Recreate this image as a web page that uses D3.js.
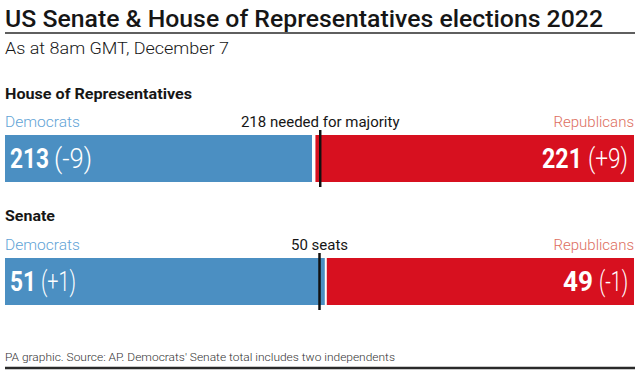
<!DOCTYPE html>
<html><head><meta charset="utf-8">
<script src="https://cdn.jsdelivr.net/npm/d3@7"></script>
<style>
html,body{margin:0;padding:0;background:#fff;}
svg{display:block;font-family:Roboto,"Liberation Sans",sans-serif;}
</style></head>
<body><svg id="c" width="640" height="373"></svg>
<script>
// ---- data ----
const chambers = ["House of Representatives", "Senate"];
const totalSeats = [435, 100];
const demSeats = [213, 51];
const repSeats = [221, 49];
const demChange = ["(-9)", "(+1)"];
const repChange = ["(+9)", "(-1)"];
const thresholds = [218, 50];
const thresholdLabels = ["218 needed for majority", "50 seats"];
const partyLabels = ["Democrats", "Republicans"];
const title = "US Senate & House of Representatives elections 2022";
const subtitle = "As at 8am GMT, December 7";
const footer = "PA graphic. Source: AP. Democrats' Senate total includes two independents";

// ---- style ----
const BLUE = "#4b8fc2", RED = "#d7101f", BLUE_T = "#62a3d6", RED_T = "#dd6e5e", INK = "#161616";
const left = 5, right = 634;
const svg = d3.select("#c");

function txt(s, x, y, o) {
  const t = svg.append("text").attr("x", x).attr("y", y).text(s)
    .attr("font-size", o.size).attr("font-weight", o.weight || 400)
    .attr("fill", o.fill || INK).attr("text-anchor", o.anchor || "start");
  if (o.len) t.attr("textLength", o.len).attr("lengthAdjust", "spacingAndGlyphs");
  return t;
}

// header
txt(title, 5, 27, {size: 23, weight: 500, len: 598});
svg.append("line").attr("x1", 5).attr("x2", 635).attr("y1", 33).attr("y2", 33)
  .attr("stroke", "#2a2a2a").attr("stroke-width", 1.5);
txt(subtitle, 5, 54, {size: 16, weight: 300, len: 224});

// chambers
const rowTop = [135, 258];
const headY = [99, 221];
const headLen = [187, 50];
const numLens = [[39, 40], [26, 30]];
const chgLens = [[38, 40], [35, 29]];

chambers.forEach((name, i) => {
  const x = d3.scaleLinear().domain([0, totalSeats[i]]).range([left, right]);
  const y0 = rowTop[i], h = 47;
  txt(name, 5, headY[i], {size: 15, weight: 700, len: headLen[i]});
  txt(partyLabels[0], 5, y0 - 8, {size: 15, weight: 300, fill: BLUE_T, len: 75});
  txt(partyLabels[1], right, y0 - 8, {size: 15, weight: 300, fill: RED_T, anchor: "end"});
  txt(thresholdLabels[i], x(thresholds[i]), y0 - 8, {size: 15, weight: 400, anchor: "middle"});

  svg.append("rect").attr("x", x(0)).attr("y", y0)
    .attr("width", x(demSeats[i]) - x(0) - 1).attr("height", h).attr("fill", BLUE);
  const rs = totalSeats[i] - repSeats[i];
  svg.append("rect").attr("x", x(rs) + 1).attr("y", y0)
    .attr("width", x(totalSeats[i]) - x(rs) - 1).attr("height", h).attr("fill", RED);
  svg.append("line").attr("x1", x(thresholds[i])).attr("x2", x(thresholds[i]))
    .attr("y1", y0 - 5).attr("y2", y0 + h + 5).attr("stroke", "#111").attr("stroke-width", 2.5);

  const by = y0 + 33;
  const dx = x(0) + 5;
  txt(demSeats[i], dx, by, {size: 27, weight: 700, fill: "#fff", len: numLens[i][0]});
  txt(demChange[i], dx + numLens[i][0] + 5, by, {size: 27, weight: 300, fill: "#fff", len: chgLens[i][0]});
  const rx = x(totalSeats[i]) - 6;
  txt(repChange[i], rx, by, {size: 27, weight: 300, fill: "#fff", anchor: "end", len: chgLens[i][1]});
  txt(repSeats[i], rx - chgLens[i][1] - 6, by, {size: 27, weight: 700, fill: "#fff", anchor: "end", len: numLens[i][1]});
});

// footer
txt(footer, 5, 361, {size: 11.5, weight: 300, fill: "#333", len: 390});
svg.append("line").attr("x1", 5).attr("x2", 635).attr("y1", 368).attr("y2", 368)
  .attr("stroke", "#2a2a2a").attr("stroke-width", 2.5);
</script></body></html>
